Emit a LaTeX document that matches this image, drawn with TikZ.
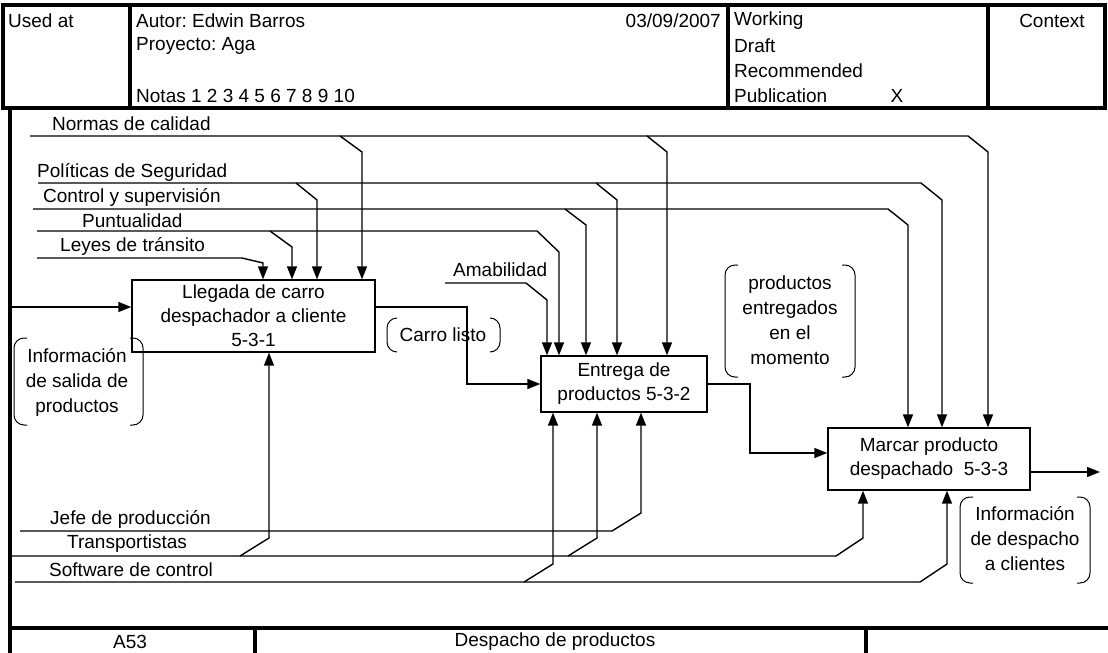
\documentclass[tikz,border=0pt]{standalone}
\usepackage{fontspec}
\setmainfont{Liberation Sans}
\usetikzlibrary{arrows.meta}
\frenchspacing

\begin{document}
\begin{tikzpicture}[
  x=1pt, y=-1pt,
  font=\fontsize{19}{25}\selectfont,
  frame/.style = {line width=4.5pt},
  wire/.style  = {line width=1.4pt},
  flow/.style  = {line width=1.4pt, -{Triangle[length=13pt,width=10pt]}},
  act/.style   = {draw, line width=1.3pt, align=center, inner sep=0pt,
                  font=\fontsize{19}{24}\selectfont},
  txt/.style   = {inner sep=0pt, anchor=west},
  note/.style  = {inner sep=0pt, align=center},
  paren/.style = {line width=1pt, rounded corners=10pt},
]

\useasboundingbox (0,0) rectangle (1108,653);

% ---- form frame ------------------------------------------------------------
\draw[frame] (3,5) rectangle (1105,108);
\draw[frame] (130,5) -- (130,108);
\draw[frame] (728,5) -- (728,108);
\draw[frame] (988,5) -- (988,108);
\draw[frame] (10,108) -- (10,653);
\draw[frame] (10,628) -- (1108,628);
\draw[frame] (255,628) -- (255,653);
\draw[frame] (866,628) -- (866,653);

% ---- header ----------------------------------------------------------------
\node[txt] (used)  at (8,21)   {Used at};
\node[txt] (autor) at (136,21) {Autor: Edwin Barros};
\node[txt] (proy)  at (136,46) {Proyecto: Aga};
\node[txt] (notas) at (136,96) {Notas 1 2 3 4 5 6 7 8 9 10};
\node[txt, anchor=east] (fecha) at (721,21) {03/09/2007};
\node[txt] (work)  at (734,21) {Working};
\node[txt] (draft) at (734,46) {Draft};
\node[txt] (recom) at (734,71) {Recommended};
\node[txt] (publ)  at (734,96) {Publication};
\node[note] (marca) at (897,96) {X};
\node[note] (ctx)   at (1052,21) {Context};

% ---- footer ----------------------------------------------------------------
\node[note] (nodo)   at (130,642) {A53};
\node[note] (titulo) at (555,642) {Despacho de productos};

% ---- activities ------------------------------------------------------------
\node[act, minimum width=243, minimum height=72] (b1) at (253.5,316)
  {Llegada de carro\\despachador a cliente\\5-3-1};
\node[act, minimum width=166, minimum height=56] (b2) at (624,384)
  {Entrega de\\productos 5-3-2};
\node[act, minimum width=202, minimum height=62] (b3) at (929,459)
  {Marcar producto\\despachado\ \ 5-3-3};

% ---- controls --------------------------------------------------------------
\node[txt] (nor) at (52,124)  {Normas de calidad};
\node[txt] (pol) at (37,172)  {Políticas de Seguridad};
\node[txt] (con) at (43,197)  {Control y supervisión};
\node[txt] (pun) at (82,221)  {Puntualidad};
\node[txt] (ley) at (60,246)  {Leyes de tránsito};
\node[txt] (ama) at (453,270) {Amabilidad};

\coordinate (nor0) at (30,136);
\coordinate (nor1) at (340,136);  \coordinate (nor1d) at (362,152);
\coordinate (nor2) at (647,136);  \coordinate (nor2d) at (667,152);
\coordinate (nor3) at (968,136);  \coordinate (nor3d) at (988,152);
\coordinate (pol0) at (38,183);
\coordinate (pol1) at (296,183);  \coordinate (pol1d) at (317,200);
\coordinate (pol2) at (596,183);  \coordinate (pol2d) at (617,200);
\coordinate (pol3) at (921,183);  \coordinate (pol3d) at (942,200);
\coordinate (con0) at (33,209);
\coordinate (con2) at (565,209);  \coordinate (con2d) at (586,225);
\coordinate (con3) at (888,209);  \coordinate (con3d) at (908,225);
\coordinate (pun0) at (37,231);
\coordinate (pun1) at (270,231);  \coordinate (pun1d) at (292,247);
\coordinate (pun2) at (537,231);  \coordinate (pun2d) at (559,252);
\coordinate (ley0) at (37,258);
\coordinate (ley1) at (242,258);  \coordinate (ley1d) at (263,263);
\coordinate (ama0) at (445,283);
\coordinate (ama2) at (526,283);  \coordinate (ama2d) at (547,300);

\draw[flow] (nor0) -- (nor3) -- (nor3d) -- (nor3d |- b3.north);
\draw[flow] (nor1) -- (nor1d) -- (nor1d |- b1.north);
\draw[flow] (nor2) -- (nor2d) -- (nor2d |- b2.north);
\draw[flow] (pol0) -- (pol3) -- (pol3d) -- (pol3d |- b3.north);
\draw[flow] (pol1) -- (pol1d) -- (pol1d |- b1.north);
\draw[flow] (pol2) -- (pol2d) -- (pol2d |- b2.north);
\draw[flow] (con0) -- (con3) -- (con3d) -- (con3d |- b3.north);
\draw[flow] (con2) -- (con2d) -- (con2d |- b2.north);
\draw[flow] (pun0) -- (pun2) -- (pun2d) -- (pun2d |- b2.north);
\draw[flow] (pun1) -- (pun1d) -- (pun1d |- b1.north);
\draw[flow] (ley0) -- (ley1) -- (ley1d) -- (ley1d |- b1.north);
\draw[flow] (ama0) -- (ama2) -- (ama2d) -- (ama2d |- b2.north);

% ---- mechanisms ------------------------------------------------------------
\node[txt] (jef) at (50,519) {Jefe de producción};
\node[txt] (tra) at (67,544) {Transportistas};
\node[txt] (sof) at (49,570) {Software de control};

\coordinate (jef0) at (20,531);
\coordinate (jef2) at (612,531);  \coordinate (jef2u) at (641,513);
\coordinate (tra0) at (12,556);
\coordinate (tra1) at (240,556);  \coordinate (tra1u) at (269,538);
\coordinate (tra2) at (568,556);  \coordinate (tra2u) at (597,538);
\coordinate (tra3) at (836,556);  \coordinate (tra3u) at (863,538);
\coordinate (sof0) at (15,582);
\coordinate (sof2) at (524,582);  \coordinate (sof2u) at (553,564);
\coordinate (sof3) at (920,582);  \coordinate (sof3u) at (947,564);

\draw[flow] (jef0) -- (jef2) -- (jef2u) -- (jef2u |- b2.south);
\draw[flow] (tra0) -- (tra3) -- (tra3u) -- (tra3u |- b3.south);
\draw[flow] (tra1) -- (tra1u) -- (tra1u |- b1.south);
\draw[flow] (tra2) -- (tra2u) -- (tra2u |- b2.south);
\draw[flow] (sof0) -- (sof3) -- (sof3u) -- (sof3u |- b3.south);
\draw[flow] (sof2) -- (sof2u) -- (sof2u |- b2.south);

% ---- inputs and outputs ----------------------------------------------------
\coordinate (in0)  at (12,307);
\coordinate (c1)   at (467,307);
\coordinate (c2)   at (750,384);
\coordinate (c2b)  at (750,453);
\coordinate (out3) at (1100,472);

\draw[flow] (in0) -- (in0 -| b1.west);
\draw[flow] (in0 -| b1.east) -- (c1) -- (c1 |- b2.west) -- (b2.west);
\draw[flow] (b2.east) -- (c2) -- (c2b) -- (c2b -| b3.west);
\draw[flow] (out3 -| b3.east) -- (out3);

% ---- arrow labels ----------------------------------------------------------
\node[note] (salida)  at (77,382)   {Información\\de salida de\\productos};
\node[note] (carro)   at (443,335)  {Carro listo};
\node[note] (entreg)  at (790,320)  {productos\\entregados\\en el\\momento};
\node[note] (despa)   at (1025,539) {Información\\de despacho\\a clientes};

\draw[paren] (27,338) -- (14,338) -- (14,425) -- (27,425);
\draw[paren] (130,338) -- (143,338) -- (143,425) -- (130,425);
\draw[paren] (397,318) -- (387,318) -- (387,352) -- (397,352);
\draw[paren] (490,318) -- (500,318) -- (500,352) -- (490,352);
\draw[paren] (738,265) -- (725,265) -- (725,377) -- (738,377);
\draw[paren] (842,265) -- (855,265) -- (855,377) -- (842,377);
\draw[paren] (973,497) -- (960,497) -- (960,583) -- (973,583);
\draw[paren] (1077,497) -- (1090,497) -- (1090,583) -- (1077,583);

\end{tikzpicture}
\end{document}
